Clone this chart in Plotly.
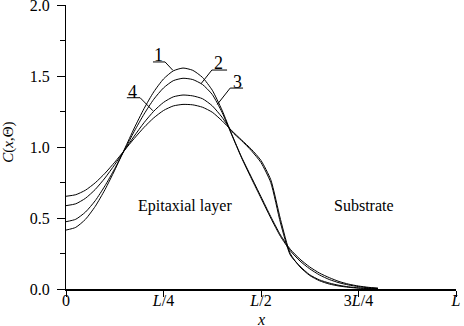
import plotly.graph_objects as go

# ---- data (x in units of L) ----
x_vals = [0.0, 0.025, 0.05, 0.075, 0.1, 0.125, 0.15, 0.175, 0.2, 0.225, 0.25, 0.275,
          0.3, 0.325, 0.35, 0.375, 0.4, 0.425, 0.45, 0.475, 0.5, 0.525, 0.55, 0.575,
          0.6, 0.625, 0.65, 0.675, 0.7, 0.725, 0.75, 0.775, 0.8]

curve1 = [0.415, 0.434, 0.491, 0.582, 0.700, 0.837, 0.985, 1.133, 1.270, 1.388, 1.479, 1.536,
          1.556, 1.540, 1.490, 1.400, 1.260, 1.090, 0.930, 0.790, 0.650, 0.510, 0.380, 0.280,
          0.210, 0.155, 0.112, 0.080, 0.053, 0.034, 0.021, 0.012, 0.006]

curve2 = [0.474, 0.491, 0.542, 0.622, 0.727, 0.848, 0.979, 1.110, 1.231, 1.336, 1.416, 1.467,
          1.484, 1.475, 1.440, 1.370, 1.245, 1.085, 0.925, 0.780, 0.640, 0.500, 0.370, 0.270,
          0.197, 0.142, 0.099, 0.067, 0.044, 0.028, 0.017, 0.009, 0.004]

curve3 = [0.587, 0.600, 0.639, 0.701, 0.782, 0.876, 0.977, 1.077, 1.171, 1.252, 1.314, 1.353,
          1.366, 1.360, 1.340, 1.290, 1.210, 1.110, 1.045, 0.975, 0.890, 0.750, 0.465, 0.240,
          0.160, 0.100, 0.064, 0.042, 0.026, 0.015, 0.008, 0.004, 0.002]

curve4 = [0.653, 0.664, 0.696, 0.748, 0.815, 0.893, 0.977, 1.060, 1.138, 1.205, 1.257, 1.289,
          1.300, 1.297, 1.280, 1.245, 1.185, 1.115, 1.050, 0.985, 0.905, 0.770, 0.490, 0.250,
          0.155, 0.095, 0.058, 0.035, 0.021, 0.012, 0.006, 0.003, 0.001]

series = [("1", curve1), ("2", curve2), ("3", curve3), ("4", curve4)]

x_tickvals = [0, 0.25, 0.5, 0.75, 1.0]
x_ticktext = ["0", "<i>L</i>/4", "<i>L</i>/2", "3<i>L</i>/4", "<i>L</i>"]

FONT = "Liberation Serif"

fig = go.Figure()
for name, ys in series:
    fig.add_trace(go.Scatter(x=x_vals, y=ys, mode="lines", name=name,
                             line=dict(color="black", width=1, shape="spline", smoothing=0.6),
                             showlegend=False, hoverinfo="skip"))

# curve labels with leader lines
labels = [
    ("1", 0.237, 1.650, 0.223, 0.254, 1.599, 0.254, 0.274, 1.540),
    ("2", 0.392, 1.595, 0.374, 0.413, 1.542, 0.374, 0.346, 1.445),
    ("3", 0.441, 1.460, 0.421, 0.454, 1.415, 0.421, 0.388, 1.300),
    ("4", 0.171, 1.390, 0.156, 0.190, 1.347, 0.190, 0.223, 1.255),
]
shapes = []
annotations = []
for t, tx, ty, bx0, bx1, by, lx, ex, ey in labels:
    annotations.append(dict(x=tx, y=ty, xref="x", yref="y", text=t, showarrow=False,
                            font=dict(family=FONT, size=18, color="black")))
    shapes.append(dict(type="line", xref="x", yref="y", x0=bx0, x1=bx1, y0=by, y1=by,
                       line=dict(color="black", width=1)))
    shapes.append(dict(type="line", xref="x", yref="y", x0=lx, x1=ex, y0=by, y1=ey,
                       line=dict(color="black", width=1)))

annotations += [
    dict(x=0.305, y=0.585, xref="x", yref="y", text="Epitaxial layer", showarrow=False,
         font=dict(family=FONT, size=16, color="black")),
    dict(x=0.765, y=0.585, xref="x", yref="y", text="Substrate", showarrow=False,
         font=dict(family=FONT, size=16, color="black")),
    dict(x=0.5, y=-0.108, xref="paper", yref="paper", text="<i>x</i>", showarrow=False,
         font=dict(family=FONT, size=16, color="black"), yanchor="middle"),
    dict(x=-0.146, y=0.515, xref="paper", yref="paper", text="<i>C</i>(<i>x</i>,Θ)", showarrow=False,
         xanchor="center", yanchor="middle",
         textangle=-90, font=dict(family=FONT, size=15, color="black")),
]

fig.update_layout(
    width=464, height=326,
    margin=dict(l=66, r=8, t=5, b=37, autoexpand=False),
    paper_bgcolor="white", plot_bgcolor="white",
    font=dict(family=FONT, size=16, color="black"),
    shapes=shapes, annotations=annotations,
    xaxis=dict(range=[0, 1.0], tickvals=x_tickvals, ticktext=x_ticktext, automargin=False,
               ticklabeloverflow="allow", ticklabelstandoff=-10,
               showgrid=False, zeroline=False, showline=True, linecolor="black", linewidth=2,
               ticks="outside", ticklen=6, tickcolor="black", tickwidth=1,
               tickfont=dict(family=FONT, size=16, color="black")),
    yaxis=dict(range=[0, 2.0], dtick=0.5, tickformat=".1f", automargin=False,
               ticklabeloverflow="allow", ticklabelstandoff=4,
               showgrid=False, zeroline=False, showline=True, linecolor="black", linewidth=1,
               ticks="outside", ticklen=8, tickcolor="black", tickwidth=1,
               minor=dict(dtick=0.25, ticks="outside", ticklen=5, tickcolor="black", showgrid=False),
               tickfont=dict(family=FONT, size=16, color="black")),
)

fig.write_html("out.html", config={"displayModeBar": False},
               post_script="document.body.style.margin='0';")
